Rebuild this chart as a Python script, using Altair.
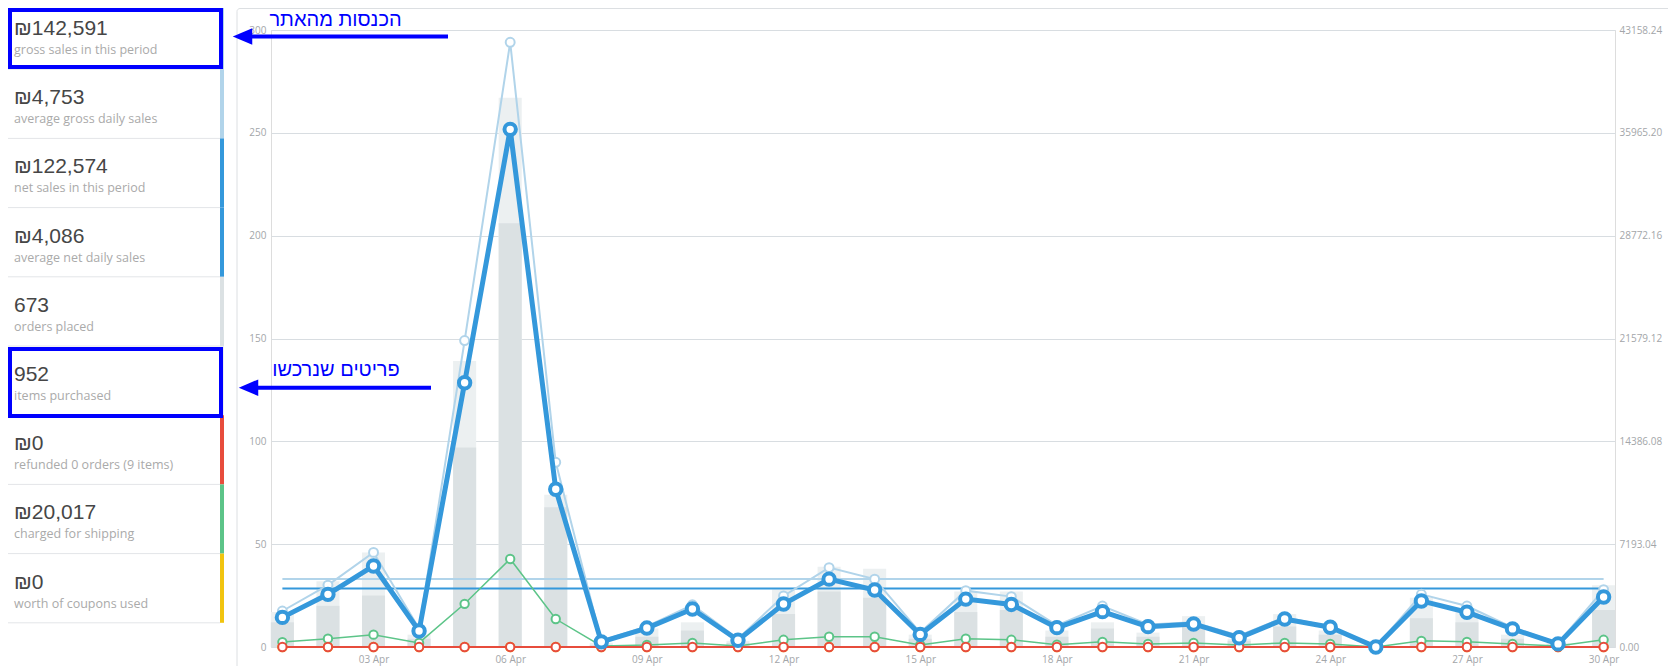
import altair as alt
import pandas as pd

# ---------------- data ----------------
days = list(range(1, 31))
gross_sales = [2518, 4330, 6618, 1295, 21435, 42295, 12919, 432, 1439, 2949,
               575, 3568, 5553, 4747, 1007, 3942, 3525, 1511, 2863, 1582,
               1726, 791, 2086, 1439, 0, 3683, 2863, 1367, 288, 4014]
net_sales = [2072, 3683, 5668, 1122, 18486, 36210, 11034, 360, 1324, 2661,
             475, 3007, 4747, 3985, 880, 3352, 2978, 1352, 2474, 1424,
             1611, 647, 1957, 1381, 0, 3222, 2431, 1266, 216, 3496]
shipping = [345, 575, 863, 288, 3021, 6157, 1957, 72, 144, 288,
            72, 504, 719, 719, 144, 575, 504, 160, 360, 216,
            288, 144, 288, 216, 0, 432, 360, 216, 72, 504]
refunds = [0, 0, 0, 0, 0, 0, 0, 0, 0, 0, 0, 0, 0, 0, 0,
           0, 0, 0, 0, 0, 0, 0, 0, 0, 0, 0, 0, 0, 0, 0]
coupons = [0, 0, 0, 0, 0, 0, 0, 0, 0, 0, 0, 0, 0, 0, 0,
           0, 0, 0, 0, 0, 0, 0, 0, 0, 0, 0, 0, 0, 0, 0]
items_sold = [17, 32, 46, 6, 139, 267, 74, 2, 9, 12, 3, 28, 39, 38, 6,
              27, 27, 8, 12, 7, 15, 4, 16, 8, 0, 24, 17, 6, 2, 30]
orders_placed = [12, 20, 25, 4, 97, 206, 68, 1, 5, 8, 2, 16, 27, 24, 4,
                 17, 18, 5, 9, 5, 10, 3, 10, 6, 0, 14, 12, 4, 1, 18]
avg_gross_daily = [4753]
avg_net_daily = [4086]

left_ticks = [0, 50, 100, 150, 200, 250, 300]
right_ticks = [0.00, 7193.04, 14386.08, 21579.12, 28772.16, 35965.20, 43158.24]
x_ticks = [3, 6, 9, 12, 15, 18, 21, 24, 27, 30]

stat_values = ["₪142,591", "₪4,753", "₪122,574", "₪4,086", "673", "952",
               "₪0", "₪20,017", "₪0"]
stat_labels = ["gross sales in this period", "average gross daily sales",
               "net sales in this period", "average net daily sales",
               "orders placed", "items purchased",
               "refunded 0 orders (9 items)", "charged for shipping",
               "worth of coupons used"]
stat_colors = ["#b1d4ea", "#b1d4ea", "#3498db", "#3498db", "#dbe1e3",
               "#ecf0f1", "#e74c3c", "#5cc488", "#f1c40f"]

note_sales = "הכנסות מהאתר"
note_items = "פריטים שנרכשו"

# ---------------- tables ----------------
df = pd.DataFrame({
    "day": days, "gross": gross_sales, "net": net_sales, "shipping": shipping,
    "refunds": refunds, "coupons": coupons, "items": items_sold,
    "orders": orders_placed,
})
avg_df = pd.DataFrame({"start": [days[0]], "end": [days[-1]],
                       "avg_gross": avg_gross_daily, "avg_net": avg_net_daily})
side = pd.DataFrame({"idx": list(range(len(stat_values))), "value": stat_values,
                     "label": stat_labels, "color": stat_colors})
one = pd.DataFrame({"k": [0]})

W, H = 1344, 617
BOX = 69.2
OY = 30  # page y of plot top
LABEL_FONT = "Open Sans"
GREY = "#a3a6a9"

xscale = alt.Scale(domain=[0.75, 30.25], nice=False, zero=False)
xaxis = alt.Axis(values=x_ticks,
                 labelExpr="(datum.value < 10 ? '0' : '') + datum.value + ' Apr'",
                 labelFont=LABEL_FONT, labelFontSize=10, labelColor=GREY,
                 domain=False, ticks=False, grid=False, labelPadding=7)
lscale = alt.Scale(domain=[0, 300], nice=False, zero=True)
laxis = alt.Axis(values=left_ticks, orient="left", labelFont=LABEL_FONT,
                 labelFontSize=10, labelColor=GREY, domain=False, ticks=False,
                 grid=True, gridColor="#d8dde1", gridWidth=1, labelPadding=5)
rscale = alt.Scale(domain=[0, 43158.24], nice=False, zero=True)
raxis = alt.Axis(values=right_ticks, orient="right", format=".2f",
                 labelFont=LABEL_FONT, labelFontSize=10, labelColor=GREY,
                 domain=False, ticks=False, grid=False, labelPadding=4)


def X(field):
    return alt.X(field, type="quantitative", scale=xscale, axis=xaxis, title="")


def YL(field):
    return alt.Y(field, type="quantitative", scale=lscale, axis=laxis, title="")


def YR(field):
    return alt.Y(field, type="quantitative", scale=rscale, axis=raxis, title="")


# ---------------- decorations: panel and sidebar ----------------
panel = alt.Chart(one).mark_rect(fill="transparent", stroke="#dcdfe2", strokeWidth=1,
                                 cornerRadius=3).encode(
    x=alt.value(-34), x2=alt.value(1405), y=alt.value(-21.5), y2=alt.value(700))

seps = alt.Chart(side).transform_calculate(
    py=f"(datum.idx + 1) * {BOX} - {OY}"
).mark_rule(color="#e3e5e8", strokeWidth=1).encode(
    x=alt.value(-263), x2=alt.value(-51),
    y=alt.Y("py:Q", scale=None, axis=None))

colorbars = alt.Chart(side).transform_calculate(
    top=f"datum.idx * {BOX} - {OY}", bot=f"(datum.idx + 1) * {BOX} - {OY}"
).mark_rect().encode(
    x=alt.value(-51), x2=alt.value(-47),
    y=alt.Y("top:Q", scale=None, axis=None), y2="bot:Q",
    color=alt.Color("color:N", scale=None))

val_text = alt.Chart(side).transform_calculate(
    vy=f"datum.idx * {BOX} + 35 - {OY}"
).mark_text(align="left", baseline="alphabetic", font="Liberation Sans",
            fontSize=21, color="#464646").encode(
    x=alt.value(-257), y=alt.Y("vy:Q", scale=None, axis=None), text="value:N")

lab_text = alt.Chart(side).transform_calculate(
    ly=f"datum.idx * {BOX} + 54 - {OY}"
).mark_text(align="left", baseline="alphabetic", font=LABEL_FONT,
            fontSize=12.5, color="#aaaaaa").encode(
    x=alt.value(-257), y=alt.Y("ly:Q", scale=None, axis=None), text="label:N")

# ---------------- bars (left axis) ----------------
items_bar = alt.Chart(df).transform_calculate(
    x0="datum.day - 0.253", x1="datum.day + 0.253"
).mark_rect(color="#ecf0f1").encode(x=X("x0"), x2="x1", y=YL("items"), y2=alt.datum(0))

orders_bar = alt.Chart(df).transform_calculate(
    x0="datum.day - 0.253", x1="datum.day + 0.253"
).mark_rect(color="#dbe1e3").encode(x=X("x0"), x2="x1", y=YL("orders"), y2=alt.datum(0))

left_group = alt.layer(panel, seps, colorbars, val_text, lab_text, items_bar, orders_bar)

# ---------------- lines (right axis) ----------------
avg_g = alt.Chart(avg_df).mark_rule(color="#b1d4ea", strokeWidth=2).encode(
    x=X("start"), x2="end", y=YR("avg_gross"))
avg_n = alt.Chart(avg_df).mark_rule(color="#3498db", strokeWidth=2).encode(
    x=X("start"), x2="end", y=YR("avg_net"))


def series(field, color, lw, size, sw):
    line = alt.Chart(df).mark_line(color=color, strokeWidth=lw).encode(
        x=X("day"), y=YR(field))
    pts = alt.Chart(df).mark_point(shape="circle", filled=True, fill="white",
                                   stroke=color, strokeWidth=sw, size=size,
                                   opacity=1).encode(x=X("day"), y=YR(field))
    return [line, pts]


layers = [avg_g, avg_n]
layers += series("coupons", "#f1c40f", 2, 70, 2)
layers += series("shipping", "#5cc488", 1.5, 70, 2)
layers += series("refunds", "#e74c3c", 2, 70, 2)
layers += series("gross", "#b1d4ea", 2, 80, 2)
layers += series("net", "#3498db", 5, 130, 4)

# ---------------- annotations ----------------
BLUE = "#0000ff"
box1 = alt.Chart(one).mark_rect(fill="transparent", stroke=BLUE, strokeWidth=4).encode(
    x=alt.value(-261), x2=alt.value(-50), y=alt.value(-20), y2=alt.value(37))
box6 = alt.Chart(one).mark_rect(fill="transparent", stroke=BLUE, strokeWidth=4).encode(
    x=alt.value(-261), x2=alt.value(-50), y=alt.value(319), y2=alt.value(386))
arrow_path = "M -1 0 L 1 -0.85 L 1 0.85 Z"
arr1 = alt.Chart(one).mark_rule(color=BLUE, strokeWidth=4).encode(
    x=alt.value(-22), x2=alt.value(177), y=alt.value(6.5))
head1 = alt.Chart(one).mark_point(shape=arrow_path, filled=True, color=BLUE,
                                  size=380, opacity=1).encode(
    x=alt.value(-28.5), y=alt.value(6.5))
txt1 = alt.Chart(one).mark_text(text=note_sales, align="center", baseline="alphabetic",
                                font="Liberation Sans", fontSize=20, color=BLUE).encode(
    x=alt.value(64.5), y=alt.value(-4))
arr2 = alt.Chart(one).mark_rule(color=BLUE, strokeWidth=4).encode(
    x=alt.value(-16), x2=alt.value(160), y=alt.value(357.7))
head2 = alt.Chart(one).mark_point(shape=arrow_path, filled=True, color=BLUE,
                                  size=380, opacity=1).encode(
    x=alt.value(-22.5), y=alt.value(357.7))
txt2 = alt.Chart(one).mark_text(text=note_items, align="center", baseline="alphabetic",
                                font="Liberation Sans", fontSize=20, color=BLUE).encode(
    x=alt.value(65), y=alt.value(346))

layers += [box1, box6, arr1, head1, txt1, arr2, head2, txt2]
right_group = alt.layer(*layers)

chart = alt.layer(left_group, right_group).resolve_scale(y="independent").properties(
    width=W, height=H,
    padding={"left": 263, "top": 22, "right": 53, "bottom": 19},
    autosize=alt.AutoSizeParams(type="none"),
).configure_view(stroke="transparent").configure(background="white")

chart.save("out.html", embed_options={"renderer": "svg", "actions": False})
